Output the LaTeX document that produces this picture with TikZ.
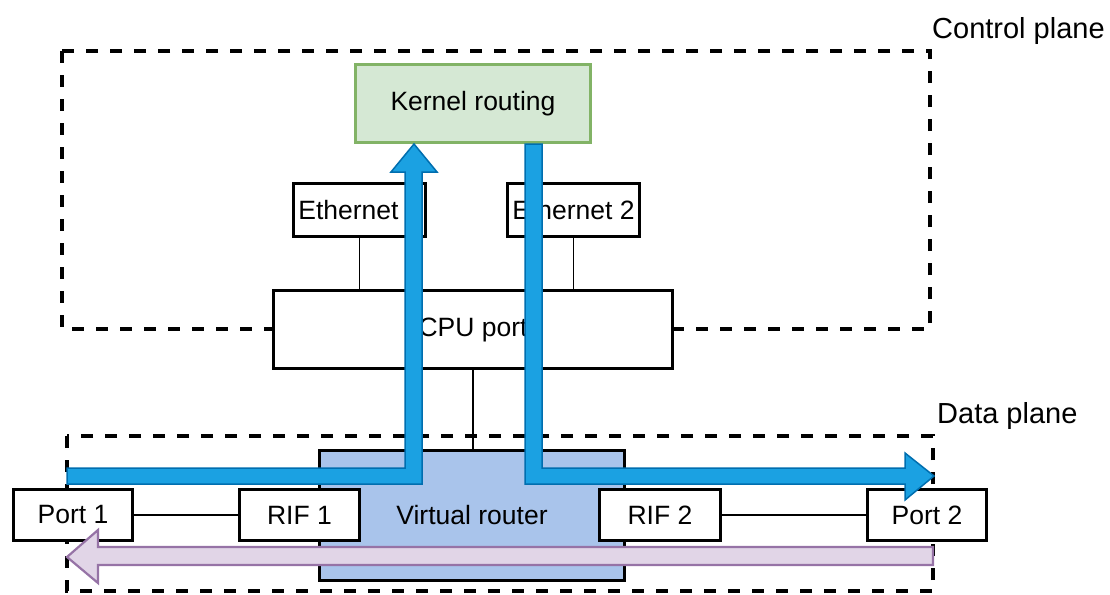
\documentclass[tikz,border=0pt]{standalone}
\usepackage{fontspec}
\setmainfont{Liberation Sans}
\definecolor{kfill}{HTML}{D5E8D4}
\definecolor{kline}{HTML}{82B366}
\definecolor{vrfill}{HTML}{A9C4EB}
\definecolor{bfill}{HTML}{1BA1E2}
\definecolor{bline}{HTML}{006EAF}
\definecolor{pfill}{HTML}{E1D5E7}
\definecolor{pline}{HTML}{9673A6}
\tikzset{
  boxstyle/.style={draw=black, line width=3pt, fill=white, rectangle, inner sep=0pt,
    font=\fontsize{26.5}{31}\selectfont},
  planebox/.style={draw=black, line width=3.5pt, dash pattern=on 12pt off 12pt},
  planelabel/.style={anchor=base west, inner sep=0pt, font=\fontsize{29}{34}\selectfont},
  link/.style={draw=black, line width=1.5pt},
  bluearrow/.style={draw=bline, fill=bfill, line width=1.5pt, line join=miter},
  purplearrow/.style={draw=pline, fill=pfill, line width=2.2pt, line join=miter}
}
\begin{document}
\begin{tikzpicture}[x=1pt,y=-1pt]
\useasboundingbox (0,0) rectangle (1110,594);
% plane frames
\draw[planebox] (62,51) rectangle (930,329);
\draw[planebox] (67,436) rectangle (933,591);
\node[planelabel] (cplabel) at (932,38) {Control plane};
\node[planelabel] (dplabel) at (937,423) {Data plane};
% boxes
\node[boxstyle, draw=kline, fill=kfill, minimum width=235pt, minimum height=78pt] (kern) at (473,103.5) {Kernel routing};
\node[boxstyle, minimum width=132pt, minimum height=53pt] (eth1) at (359.5,210) {Ethernet 1};
\node[boxstyle, minimum width=132pt, minimum height=53pt] (eth2) at (573.5,210) {Ethernet 2};
\node[boxstyle, minimum width=399pt, minimum height=78pt] (cpu) at (473,329.5) {CPU port};
\node[boxstyle, fill=vrfill, minimum width=305pt, minimum height=130pt] (vr) at (472,515.5) {Virtual router};
\node[boxstyle, minimum width=119pt, minimum height=51pt] (p1) at (73,515) {Port 1};
\node[boxstyle, minimum width=120pt, minimum height=51pt] (rif1) at (299.5,515) {RIF 1};
\node[boxstyle, minimum width=121pt, minimum height=51pt] (rif2) at (660,515) {RIF 2};
\node[boxstyle, minimum width=119pt, minimum height=51pt] (p2) at (927,515) {Port 2};
% links
\draw[link] (eth1.south) -- (eth1.south |- cpu.north);
\draw[link] (eth2.south) -- (eth2.south |- cpu.north);
\draw[link] (cpu.south) -- (cpu.south |- vr.north);
\draw[link] (p1.east) -- (rif1.west);
\draw[link] (rif2.east) -- (p2.west);
% flows
\coordinate (inL) at (67,476);
\coordinate (upTip) at (414,144);
\coordinate (downStart) at (533.5,144);
\coordinate (outR) at (934,476);
\coordinate (inR) at (933,556);
\coordinate (outL) at (67,557);
\draw[bluearrow] (inL |- 0,468) -- (405,468) -- (405,172) -- (391,172) -- (upTip) -- (437,172) -- (422,172) -- (422,484) -- (inL |- 0,484) -- cycle;
\draw[bluearrow] (525,0 |- downStart) -- (542,0 |- downStart) -- (542,468) -- (905,468) -- (905,453) -- (outR) -- (905,500) -- (905,484) -- (525,484) -- cycle;
\draw[purplearrow] (inR |- 0,547) -- (98,547) -- (98,530) -- (outL) -- (98,583) -- (98,565) -- (inR |- 0,565) -- cycle;
\end{tikzpicture}
\end{document}
